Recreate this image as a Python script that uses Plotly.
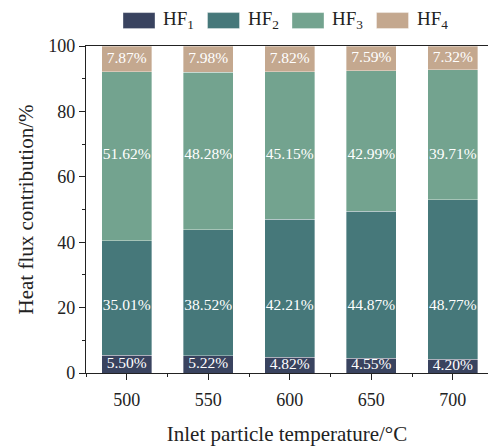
import plotly.graph_objects as go

# Inlet particle temperature (°C) and heat-flux contributions (%)
temperatures = [500, 550, 600, 650, 700]
hf1 = [5.50, 5.22, 4.82, 4.55, 4.20]
hf2 = [35.01, 38.52, 42.21, 44.87, 48.77]
hf3 = [51.62, 48.28, 45.15, 42.99, 39.71]
hf4 = [7.87, 7.98, 7.82, 7.59, 7.32]

series_names = ["HF<sub>1</sub>", "HF<sub>2</sub>", "HF<sub>3</sub>", "HF<sub>4</sub>"]
series_values = [hf1, hf2, hf3, hf4]
colors = ["#39435f", "#46787a", "#73a38f", "#c4a88f"]

FONT = "Liberation Serif, Times New Roman, serif"
BAR_W = 30.7

fig = go.Figure()

for name, vals, col in zip(series_names, series_values, colors):
    fig.add_trace(go.Bar(
        x=temperatures, y=vals, name=name, width=BAR_W,
        marker=dict(color=col, line=dict(width=0.6, color="rgba(255,255,255,0.6)")),
        showlegend=False,
    ))

# value labels: HF1/HF4 centred in their segments, HF2/HF3 on fixed rows
label_rows = [
    [v / 2 for v in hf1],
    [20.3] * len(temperatures),
    [66.5] * len(temperatures),
    [100 - v / 2 for v in hf4],
]
for vals, ys in zip(series_values, label_rows):
    fig.add_trace(go.Scatter(
        x=temperatures, y=ys, mode="text",
        text=[f"{v:.2f}%" for v in vals],
        textposition="middle center",
        textfont=dict(family=FONT, size=15.5, color="white"),
        showlegend=False, hoverinfo="skip",
    ))

# legend row along the top
shapes = []
annotations = []
x0 = 123
step = 84.5
for i, (name, col) in enumerate(zip(series_names, colors)):
    left = x0 + i * step
    shapes.append(dict(
        type="rect", xref="paper", yref="paper",
        x0=(left - 86) / 402, x1=(left + 32 - 86) / 402,
        y0=(373.5 - 28) / 328, y1=(373.5 - 12) / 328,
        fillcolor=col, line=dict(width=0.6, color="rgba(255,255,255,0.6)"),
    ))
    annotations.append(dict(
        xref="paper", yref="paper",
        x=(left + 38 - 86) / 402, y=(373.5 - 19) / 328,
        xanchor="left", yanchor="middle", showarrow=False,
        text=name, font=dict(family=FONT, size=19, color="#222"),
    ))

fig.update_layout(
    width=488, height=446,
    margin=dict(l=86, r=0, t=45.5, b=72.5),
    barmode="stack",
    plot_bgcolor="white", paper_bgcolor="white",
    font=dict(family=FONT, color="#222"),
    shapes=shapes, annotations=annotations,
    xaxis=dict(
        range=[475, 721.6],
        tickvals=temperatures, ticktext=[str(t) for t in temperatures],
        ticks="outside", ticklen=6, tickwidth=1.2, tickcolor="#222",
        ticklabelstandoff=4,
        minor=dict(tick0=525, dtick=50, ticks="outside", ticklen=3, tickwidth=1.2, tickcolor="#222"),
        showline=True, linecolor="#222", linewidth=1.2, mirror=True,
        showgrid=False, zeroline=False,
        tickfont=dict(family=FONT, size=18, color="#222"),
        title=dict(text="Inlet particle temperature/°C", font=dict(family=FONT, size=21, color="#222"), standoff=22),
    ),
    yaxis=dict(
        range=[0, 100], dtick=20,
        ticks="outside", ticklen=6, tickwidth=1.2, tickcolor="#222",
        minor=dict(dtick=10, ticks="outside", ticklen=3, tickwidth=1.2, tickcolor="#222"),
        showline=True, linecolor="#222", linewidth=1.2,
        showgrid=False, zeroline=False,
        tickfont=dict(family=FONT, size=18, color="#222"),
        title=dict(text="Heat flux contribution/%", font=dict(family=FONT, size=21, color="#222"), standoff=8),
    ),
)

fig.write_html("out.html")
